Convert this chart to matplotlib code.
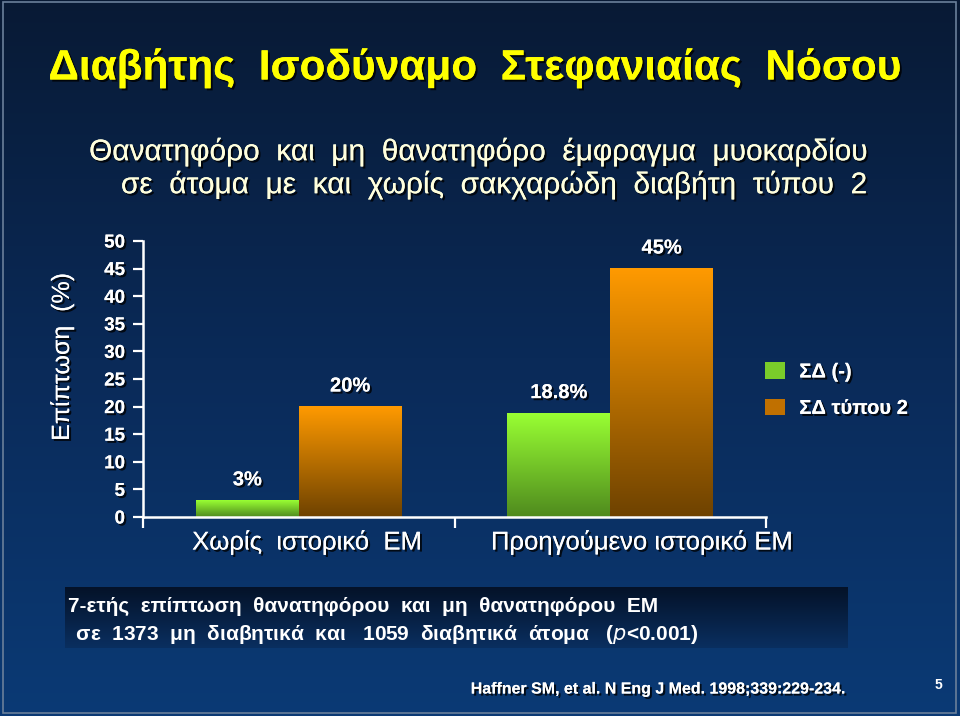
import numpy as np
import matplotlib
matplotlib.use("Agg")
import matplotlib.pyplot as plt
from matplotlib.colors import LinearSegmentedColormap
from matplotlib.patches import Patch, Rectangle
import matplotlib.patheffects as pe

plt.rcParams['font.family'] = ['Liberation Sans', 'DejaVu Sans']

# ---- data ----
categories = ["Χωρίς  ιστορικό  ΕΜ", "Προηγούμενο ιστορικό ΕΜ"]
series_names = ["ΣΔ (-)", "ΣΔ τύπου 2"]
no_diabetes = [3.0, 18.8]
diabetes = [20.0, 45.0]
value_labels_nd = ["3%", "18.8%"]
value_labels_d = ["20%", "45%"]
yticks = [0, 5, 10, 15, 20, 25, 30, 35, 40, 45, 50]

title = "Διαβήτης  Ισοδύναμο  Στεφανιαίας  Νόσου"
subtitle1 = "Θανατηφόρο  και  μη  θανατηφόρο  έμφραγμα  μυοκαρδίου"
subtitle2 = "σε  άτομα  με  και  χωρίς  σακχαρώδη  διαβήτη  τύπου  2"
ylabel = "Επίπτωση  (%)"
note1 = "7-ετής  επίπτωση  θανατηφόρου  και  μη  θανατηφόρου  ΕΜ"
note2 = " σε  1373  μη  διαβητικά  και   1059  διαβητικά  άτομα   ($p$<0.001)"
citation = "Haffner SM, et al. N Eng J Med. 1998;339:229-234."

W, H = 960, 716
fig = plt.figure(figsize=(W / 100, H / 100), dpi=100)

# background gradient
bg = fig.add_axes([0, 0, 1, 1], zorder=-10)
bg_cmap = LinearSegmentedColormap.from_list("bg", ["#081a35", "#0a2a58", "#0b3a75"])
grad = np.linspace(0, 1, 256).reshape(-1, 1)
bg.imshow(grad, aspect="auto", cmap=bg_cmap, extent=[0, 1, 0, 1], origin="upper")
bg.set_xlim(0, 1); bg.set_ylim(0, 1); bg.axis("off")
# note box gradient
box_cmap = LinearSegmentedColormap.from_list("box", ["#041228", "#0a2f60"])
bg.imshow(grad, aspect="auto", cmap=box_cmap,
          extent=[65 / W, 848 / W, 1 - 648 / H, 1 - 588 / H], origin="upper")
bg.add_patch(Rectangle((0.003, 0.004), 0.993, 0.993, fill=False, ec="#6a7f9a", lw=1.2))

shadow = [pe.withSimplePatchShadow(offset=(1.5, -1.5), shadow_rgbFace="black", alpha=0.8), pe.Normal()]

ax = fig.add_axes([143 / W, 1 - 517 / H, (766 - 143) / W, (517 - 241) / H])
ax.set_facecolor("none")
x = np.arange(len(categories))
width = 0.33
green_cmap = LinearSegmentedColormap.from_list("g", ["#4f8a1e", "#99ff33"])
orange_cmap = LinearSegmentedColormap.from_list("o", ["#6e4200", "#ff9a00"])

b1 = ax.bar(x - width / 2, no_diabetes, width, color="#7acc2a", label=series_names[0], zorder=2)
b2 = ax.bar(x + width / 2, diabetes, width, color="#d07a00", label=series_names[1], zorder=2)

for bars, cmap in ((b1, green_cmap), (b2, orange_cmap)):
    for r in bars:
        r.set_alpha(0)
        x0, y0, w_, h_ = r.get_x(), r.get_y(), r.get_width(), r.get_height()
        ax.imshow(np.linspace(0, 1, 256).reshape(-1, 1), cmap=cmap, aspect="auto",
                  extent=[x0, x0 + w_, y0, y0 + h_], origin="lower", zorder=2)

for bars, labels in ((b1, value_labels_nd), (b2, value_labels_d)):
    for r, lab in zip(bars, labels):
        ax.annotate(lab, (r.get_x() + r.get_width() / 2, r.get_height()),
                    xytext=(0, 8), textcoords="offset points", ha="center", va="bottom",
                    color="white", fontsize=14.5, fontweight="bold", path_effects=shadow)

ax.set_xlim(-0.5, 1.5)
ax.set_ylim(0, 50)
ax.set_yticks(yticks)
ax.set_yticklabels([str(t) for t in yticks], color="white", fontsize=13.5, fontweight="bold")
for t in ax.get_yticklabels():
    t.set_path_effects(shadow)
ax.set_xticks([-0.5, 0.5, 1.5])
ax.set_xticklabels([])
ax.tick_params(axis="y", direction="out", length=7, width=1.6, color="white", pad=6)
ax.tick_params(axis="x", direction="out", length=8, width=1.6, color="white")
for s in ("top", "right"):
    ax.spines[s].set_visible(False)
for s in ("left", "bottom"):
    ax.spines[s].set_color("white")
    ax.spines[s].set_linewidth(1.8)

cat_offsets = [6, 23]
for xi, cat, off in zip(x, categories, cat_offsets):
    ax.annotate(cat, (xi, 0), xytext=(off, -9), textcoords="offset points",
                ha="center", va="top", color="white", fontsize=18.5, path_effects=shadow)

ax.set_ylabel(ylabel, color="white", fontsize=18, path_effects=shadow)
ax.yaxis.set_label_coords(-(143 - 74) / (766 - 143), 0.58)

leg = fig.legend(handles=[Patch(facecolor="#7acc2a"), Patch(facecolor="#c07000")],
                 labels=series_names, loc="upper left", bbox_to_anchor=(747 / W, 1 - 344 / H),
                 frameon=False, handlelength=1.0, handleheight=0.9, handletextpad=0.7,
                 labelspacing=0.85, prop={'weight': 'bold', 'size': 14.5})
for t in leg.get_texts():
    t.set_color("white")
    t.set_path_effects(shadow)

fig.text(475 / W, 1 - 68 / H, title, color="#ffff00", fontsize=30.5, fontweight="bold",
         ha="center", va="center", path_effects=shadow)
fig.text(478 / W, 1 - 152 / H, subtitle1, color="#ffffdd", fontsize=21.5,
         ha="center", va="center", path_effects=shadow)
fig.text(494 / W, 1 - 185 / H, subtitle2, color="#ffffdd", fontsize=21.5,
         ha="center", va="center", path_effects=shadow)
fig.text(68 / W, 1 - 606 / H, note1, color="white", fontsize=15, fontweight="bold",
         ha="left", va="center")
fig.text(70 / W, 1 - 635 / H, note2, color="white", fontsize=15, fontweight="bold",
         ha="left", va="center")
fig.text(848 / W, 1 - 689 / H, citation, color="white", fontsize=11.5, fontweight="bold",
         ha="right", va="center", path_effects=shadow)
fig.text(938 / W, 1 - 685 / H, "5", color="white", fontsize=10, fontweight="bold",
         ha="center", va="center")

fig.savefig("out.png", dpi=100)
